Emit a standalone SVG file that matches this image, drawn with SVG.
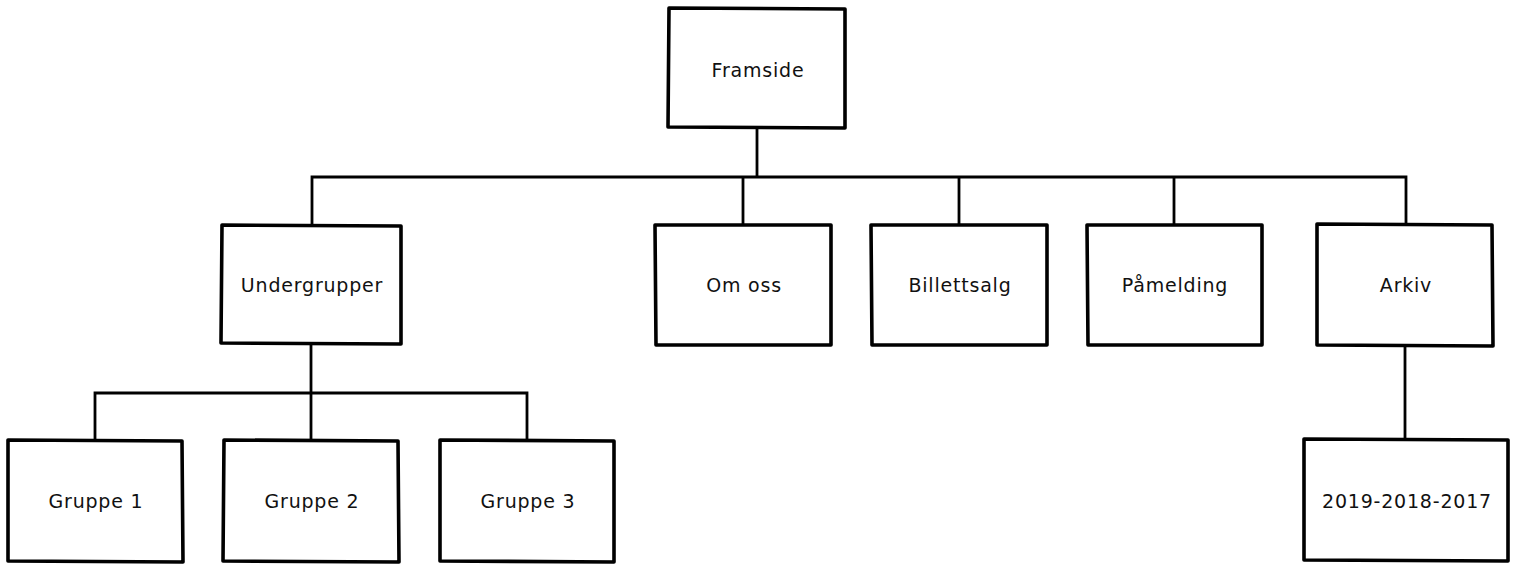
<svg xmlns="http://www.w3.org/2000/svg" width="1516" height="568" viewBox="0 0 1516 568">
<style>
.box{fill:#fff;stroke:#000;stroke-width:3.6;stroke-linejoin:round}
.ln{fill:none;stroke:#000;stroke-width:2.8}
text{font-family:"DejaVu Sans","Noto Sans",sans-serif;font-size:19px;letter-spacing:0.8px;fill:#111;text-anchor:middle;dominant-baseline:central}
</style>
<rect width="1516" height="568" fill="#fff"/>
<g id="connectors">
<path class="ln" d="M757 128 V177"/>
<path class="ln" d="M312 225 V177 H1406 V225"/>
<path class="ln" d="M743 177 V225"/>
<path class="ln" d="M959 177 V225"/>
<path class="ln" d="M1174 177 V225"/>
<path class="ln" d="M311 344 V440"/>
<path class="ln" d="M95 440 V393 H527 V440"/>
<path class="ln" d="M1405 346 V439"/>
</g>
<g id="framside"><path class="box" d="M669 8 L845 9 L845 128 L668 127 Z"/><text x="758" y="70">Framside</text></g>
<g id="undergrupper"><path class="box" d="M222 225 L401 226 L401 344 L221 343 Z"/><text x="312" y="285">Undergrupper</text></g>
<g id="omoss"><path class="box" d="M655 225 L831 225 L831 345 L656 345 Z"/><text x="744" y="285">Om oss</text></g>
<g id="billettsalg"><path class="box" d="M871 225 L1047 225 L1047 345 L872 345 Z"/><text x="960" y="285">Billettsalg</text></g>
<g id="pamelding"><path class="box" d="M1087 225 L1262 225 L1262 345 L1088 345 Z"/><text x="1175" y="285">Påmelding</text></g>
<g id="arkiv"><path class="box" d="M1317 224 L1492 225 L1493 346 L1317 345 Z"/><text x="1406" y="285">Arkiv</text></g>
<g id="gruppe1"><path class="box" d="M8 440 L182 441 L183 562 L8 561 Z"/><text x="96" y="501">Gruppe 1</text></g>
<g id="gruppe2"><path class="box" d="M224 440 L398 441 L399 562 L223 561 Z"/><text x="312" y="501">Gruppe 2</text></g>
<g id="gruppe3"><path class="box" d="M440 440 L614 441 L614 562 L440 561 Z"/><text x="528" y="501">Gruppe 3</text></g>
<g id="arkiv2019"><path class="box" d="M1304 439 L1508 440 L1508 561 L1304 560 Z"/><text x="1407" y="501">2019-2018-2017</text></g>
</svg>
